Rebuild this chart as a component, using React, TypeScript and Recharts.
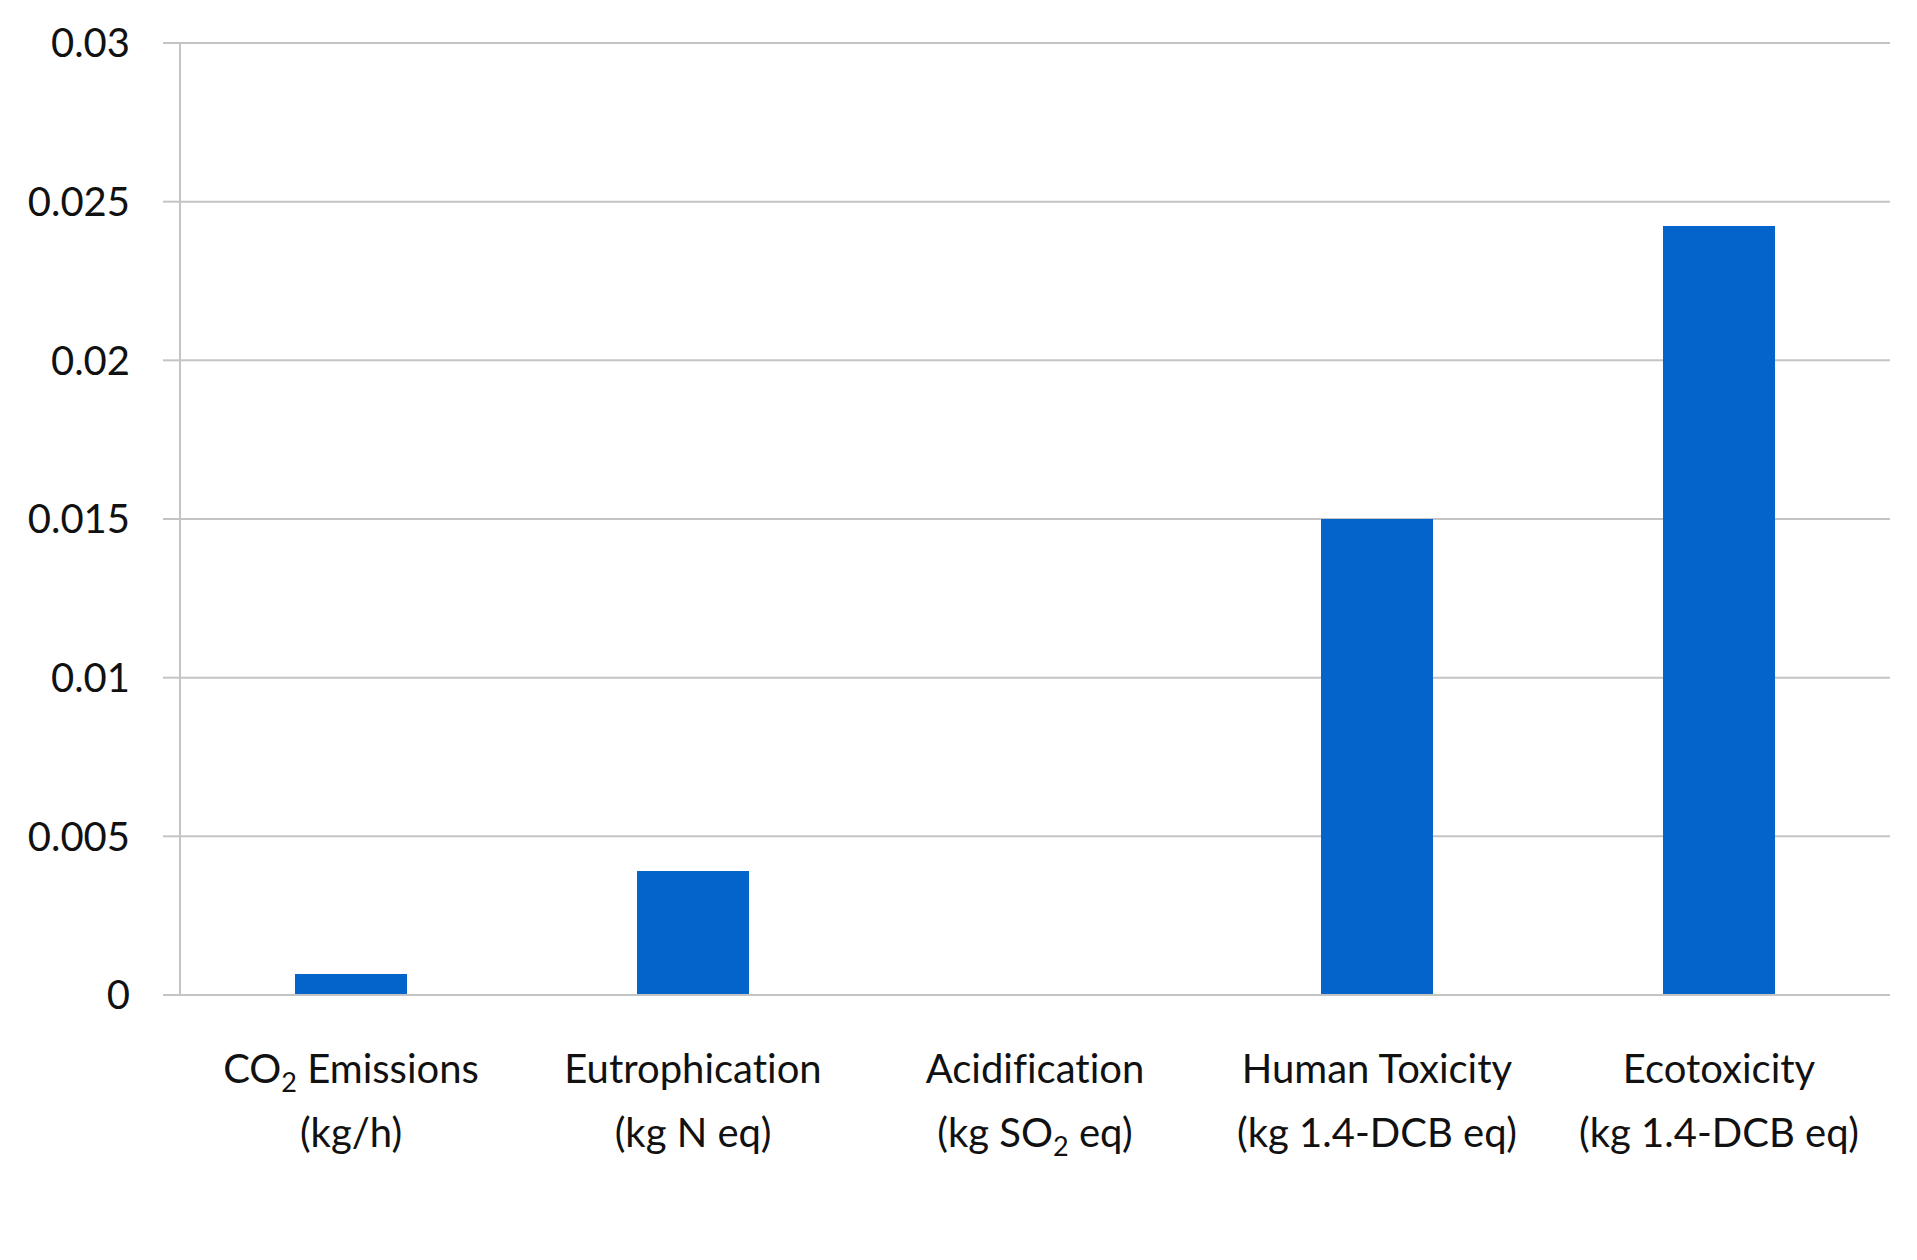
import { BarChart, Bar, XAxis, YAxis, CartesianGrid } from "recharts";

const categories = ["CO2 Emissions", "Eutrophication", "Acidification", "Human Toxicity", "Ecotoxicity"];
const units = ["(kg/h)", "(kg N eq)", "(kg SO2 eq)", "(kg 1.4-DCB eq)", "(kg 1.4-DCB eq)"];
const values = [0.00066, 0.00391, 0, 0.015, 0.02423];
const yTicks = [0, 0.005, 0.01, 0.015, 0.02, 0.025, 0.03];

const data = categories.map((name, i) => ({ name, unit: units[i], value: values[i] }));

const FONT = "Lato, 'Open Sans', sans-serif";
const GRID = "#c4c4c4";

// renders "CO2"/"SO2" with the 2 as a subscript
function Line({ text, y }: { text: string; y: number }) {
  const parts = text.split(/(?<=[CS]O)2/);
  return (
    <text
      x={0}
      y={y}
      textAnchor="middle"
      fontSize={40}
      fontFamily={FONT}
      fill="#111"
      style={{ fontVariantLigatures: "none" }}
    >
      {parts.length > 1 ? (
        <>
          {parts[0]}
          <tspan fontSize={27} dy={9}>2</tspan>
          <tspan dy={-9}>{parts[1]}</tspan>
        </>
      ) : (
        text
      )}
    </text>
  );
}

function CategoryTick(props: any) {
  const { x, y, index } = props;
  return (
    <g transform={`translate(${x},${y})`}>
      <Line text={categories[index]} y={88} />
      <Line text={units[index]} y={152} />
    </g>
  );
}

export default function App() {
  return (
    <div style={{ position: "absolute", left: 0, top: 0, background: "#fff" }}>
      <BarChart
        width={1917}
        height={1260}
        data={data}
        margin={{ top: 43, right: 27, bottom: 65, left: 0 }}
        barSize={112}
      >
        <CartesianGrid vertical={false} stroke={GRID} strokeWidth={2} />
        <XAxis
          dataKey="name"
          height={200}
          axisLine={{ stroke: GRID, strokeWidth: 2 }}
          tickLine={false}
          tickSize={0}
          tickMargin={0}
          interval={0}
          tick={<CategoryTick />}
        />
        <YAxis
          width={180}
          domain={[0, 0.03]}
          ticks={yTicks}
          interval={0}
          axisLine={{ stroke: GRID, strokeWidth: 2 }}
          tickLine={{ stroke: GRID, strokeWidth: 2 }}
          tickSize={17}
          tickMargin={33}
          tick={{ fontSize: 40, fontFamily: FONT, fill: "#111" }}
        />
        <Bar dataKey="value" fill="#0563CC" isAnimationActive={false} />
      </BarChart>
    </div>
  );
}
